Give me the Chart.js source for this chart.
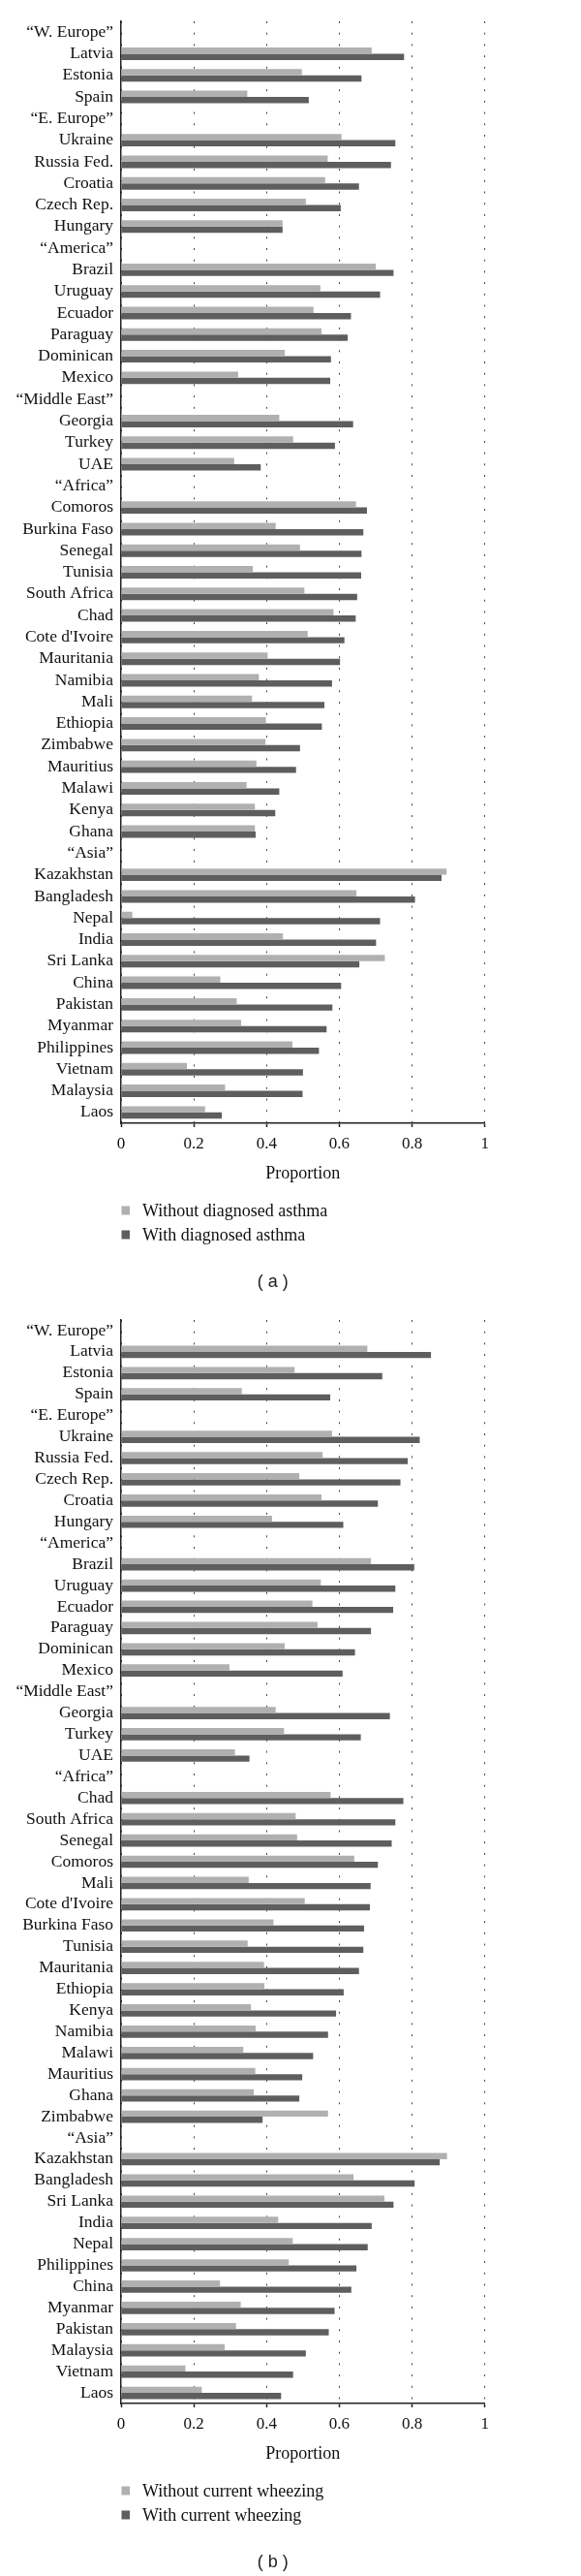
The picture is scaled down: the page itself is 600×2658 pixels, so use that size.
<!DOCTYPE html>
<html>
<head>
<meta charset="utf-8">
<script src="https://cdn.jsdelivr.net/npm/chart.js@4.4.1/dist/chart.umd.min.js"></script>
<style>
  body { margin: 0; background: #fff; }
  .wrap { position: absolute; left: 0; width: 600px; }
</style>
</head>
<body>
<div class="wrap" style="top:0;height:1337px"><canvas id="chartA"></canvas></div>
<div class="wrap" style="top:1340px;height:1318px"><canvas id="chartB"></canvas></div>
<script>
var xTickLabels = ["0", "0.2", "0.4", "0.6", "0.8", "1"];

// (a) diagnosed asthma
var countriesA = ["“W. Europe”", "Latvia", "Estonia", "Spain", "“E. Europe”", "Ukraine", "Russia Fed.", "Croatia", "Czech Rep.", "Hungary",
  "“America”", "Brazil", "Uruguay", "Ecuador", "Paraguay", "Dominican", "Mexico", "“Middle East”", "Georgia", "Turkey", "UAE",
  "“Africa”", "Comoros", "Burkina Faso", "Senegal", "Tunisia", "South Africa", "Chad", "Cote d'Ivoire", "Mauritania", "Namibia", "Mali",
  "Ethiopia", "Zimbabwe", "Mauritius", "Malawi", "Kenya", "Ghana", "“Asia”", "Kazakhstan", "Bangladesh", "Nepal", "India", "Sri Lanka",
  "China", "Pakistan", "Myanmar", "Philippines", "Vietnam", "Malaysia", "Laos"];
var withoutAsthma = [null, 0.689, 0.497, 0.347, null, 0.606, 0.568, 0.561, 0.508, 0.444,
  null, 0.700, 0.548, 0.529, 0.551, 0.450, 0.322, null, 0.435, 0.473, 0.311,
  null, 0.646, 0.425, 0.492, 0.362, 0.504, 0.584, 0.513, 0.403, 0.379, 0.360,
  0.398, 0.397, 0.372, 0.345, 0.368, 0.368, null, 0.895, 0.647, 0.031, 0.445, 0.725,
  0.273, 0.318, 0.330, 0.471, 0.181, 0.286, 0.231];
var withAsthma = [null, 0.778, 0.661, 0.516, null, 0.754, 0.742, 0.654, 0.604, 0.444,
  null, 0.749, 0.712, 0.632, 0.623, 0.577, 0.575, null, 0.638, 0.588, 0.384,
  null, 0.676, 0.666, 0.661, 0.660, 0.649, 0.645, 0.614, 0.602, 0.580, 0.559,
  0.552, 0.492, 0.481, 0.435, 0.424, 0.370, null, 0.881, 0.808, 0.712, 0.701, 0.655,
  0.605, 0.581, 0.565, 0.544, 0.500, 0.499, 0.277];

// (b) current wheezing
var countriesB = ["“W. Europe”", "Latvia", "Estonia", "Spain", "“E. Europe”", "Ukraine", "Russia Fed.", "Czech Rep.", "Croatia", "Hungary",
  "“America”", "Brazil", "Uruguay", "Ecuador", "Paraguay", "Dominican", "Mexico", "“Middle East”", "Georgia", "Turkey", "UAE",
  "“Africa”", "Chad", "South Africa", "Senegal", "Comoros", "Mali", "Cote d'Ivoire", "Burkina Faso", "Tunisia", "Mauritania", "Ethiopia",
  "Kenya", "Namibia", "Malawi", "Mauritius", "Ghana", "Zimbabwe", "“Asia”", "Kazakhstan", "Bangladesh", "Sri Lanka", "India", "Nepal",
  "Philippines", "China", "Myanmar", "Pakistan", "Malaysia", "Vietnam", "Laos"];
var withoutWheeze = [null, 0.677, 0.477, 0.332, null, 0.580, 0.554, 0.490, 0.551, 0.415,
  null, 0.687, 0.549, 0.526, 0.540, 0.450, 0.298, null, 0.425, 0.448, 0.313,
  null, 0.576, 0.480, 0.484, 0.641, 0.351, 0.505, 0.419, 0.348, 0.393, 0.394,
  0.357, 0.370, 0.336, 0.369, 0.365, 0.569, null, 0.896, 0.639, 0.724, 0.432, 0.472,
  0.461, 0.272, 0.329, 0.316, 0.285, 0.177, 0.222];
var withWheeze = [null, 0.852, 0.718, 0.575, null, 0.821, 0.788, 0.768, 0.706, 0.611,
  null, 0.806, 0.754, 0.748, 0.687, 0.643, 0.609, null, 0.739, 0.659, 0.353,
  null, 0.776, 0.754, 0.744, 0.706, 0.686, 0.684, 0.668, 0.666, 0.654, 0.612,
  0.591, 0.569, 0.528, 0.498, 0.490, 0.389, null, 0.876, 0.807, 0.749, 0.689, 0.678,
  0.647, 0.633, 0.587, 0.571, 0.508, 0.473, 0.440];

var lightGrey = "#b0b0b0";
var darkGrey = "#5e5e5e";
var serif = "'Liberation Serif', 'DejaVu Serif', serif";

// legend stacked under the axis + "(a)" caption
var legendCaption = {
  id: "legendCaption",
  afterDraw: function (chart, args, opts) {
    var ctx = chart.ctx, area = chart.chartArea;
    ctx.save();
    ctx.font = "18px " + serif;
    ctx.textBaseline = "middle";
    ctx.textAlign = "left";
    chart.data.datasets.forEach(function (ds, i) {
      var y = area.bottom + 90 + i * 25;
      ctx.fillStyle = ds.backgroundColor;
      ctx.fillRect(area.left + 0.5, y - 4.5, 8.5, 9);
      ctx.fillStyle = "#111";
      ctx.fillText(ds.label, area.left + 22, y + 1);
    });
    ctx.font = "18px 'Liberation Sans', Arial, sans-serif";
    ctx.textAlign = "center";
    ctx.fillStyle = "#222";
    ctx.fillText(opts.caption, 281.7, area.bottom + 164);
    ctx.restore();
  }
};

function makeChart(id, labels, lowVals, highVals, names, caption) {
  new Chart(document.getElementById(id), {
    type: "bar",
    data: {
      labels: labels,
      datasets: [
        { label: names[0], data: lowVals, backgroundColor: lightGrey, borderWidth: 0 },
        { label: names[1], data: highVals, backgroundColor: darkGrey, borderWidth: 0 }
      ]
    },
    plugins: [legendCaption],
    options: {
      indexAxis: "y",
      responsive: true,
      maintainAspectRatio: false,
      animation: false,
      categoryPercentage: 0.58,
      barPercentage: 1.0,
      layout: { padding: { top: 22, right: 99.3, bottom: 115, left: 0 } },
      plugins: {
        legend: { display: false },
        tooltip: { enabled: false },
        legendCaption: { caption: caption }
      },
      scales: {
        x: {
          min: 0, max: 1,
          ticks: {
            stepSize: 0.2, padding: 7, color: "#111",
            font: { family: serif, size: 17 },
            callback: function (v, i) { return xTickLabels[i]; }
          },
          grid: { color: "#444", lineWidth: 1, tickLength: 4, tickColor: "#222", tickWidth: 1.5, tickBorderDash: [] },
          border: { display: true, color: "#222", width: 1.5, dash: [2, 9.7] },
          title: { display: true, text: "Proportion", color: "#111", padding: 0, font: { family: serif, size: 18 } },
          afterFit: function (s) { s.height = 63; }
        },
        y: {
          ticks: { autoSkip: false, padding: 8, color: "#111", font: { family: serif, size: 17.5 } },
          grid: { display: true, drawOnChartArea: false, drawTicks: false },
          border: { display: true, color: "#222", width: 1.5 },
          afterFit: function (s) { s.width = 125; }
        }
      }
    }
  });
}

makeChart("chartA", countriesA, withoutAsthma, withAsthma,
  ["Without diagnosed asthma", "With diagnosed asthma"], "( a )");
makeChart("chartB", countriesB, withoutWheeze, withWheeze,
  ["Without current wheezing", "With current wheezing"], "( b )");
</script>
</body>
</html>
